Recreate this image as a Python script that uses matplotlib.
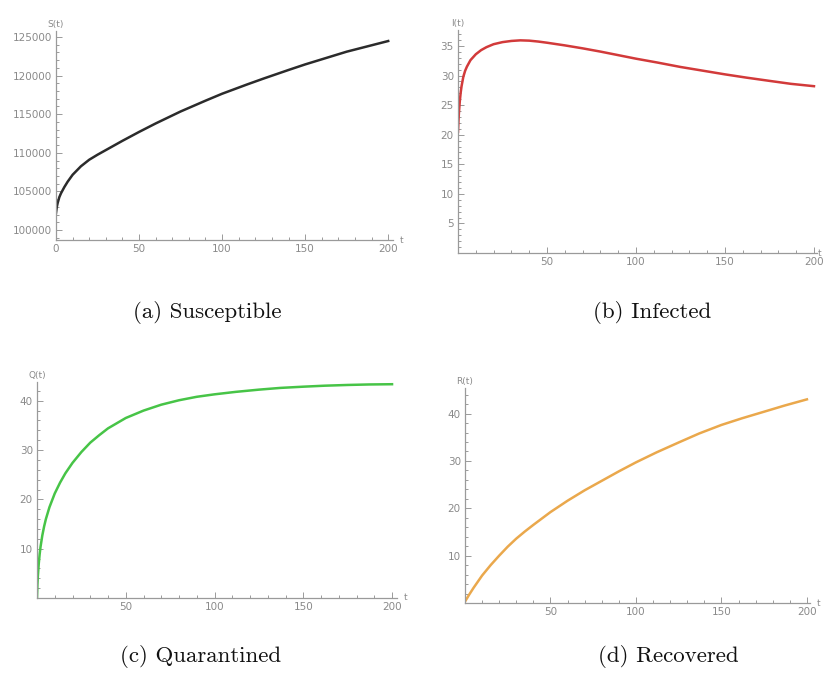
import matplotlib
matplotlib.use("Agg")
import matplotlib.pyplot as plt
from matplotlib.ticker import MultipleLocator, FuncFormatter

# values
t_s = [0, 0.5, 1, 2, 3, 5, 7, 10, 15, 20, 25, 30, 40, 50, 60, 75, 90, 100, 115, 125, 140, 150, 175, 200]
S = [102200, 103000, 103500, 104250, 104750, 105550, 106250, 107150, 108250, 109100, 109750, 110350,
     111550, 112700, 113800, 115350, 116750, 117650, 118850, 119620, 120730, 121450, 123100, 124480]

t_i = [0, 0.25, 0.5, 1, 1.5, 2, 3, 4, 5, 7, 10, 13, 16, 20, 25, 30, 35, 40, 45, 50, 60, 70,
       80, 90, 100, 112, 125, 137, 150, 162, 175, 187, 200]
I = [20.5, 22.2, 23.6, 25.6, 27.1, 28.2, 29.8, 30.8, 31.5, 32.6, 33.6, 34.3, 34.8, 35.3, 35.65,
     35.85, 35.95, 35.9, 35.75, 35.55, 35.1, 34.6, 34.05, 33.45, 32.85, 32.2, 31.45, 30.85,
     30.2, 29.65, 29.1, 28.6, 28.2]

t_q = [0, 0.25, 0.5, 1, 1.5, 2, 3, 4, 5, 7, 10, 13, 16, 20, 25, 30, 35, 40, 50, 60, 70, 80,
       90, 100, 112, 125, 137, 150, 162, 175, 187, 200]
Q = [0, 2.8, 4.5, 7.0, 8.9, 10.4, 12.7, 14.5, 16.0, 18.4, 21.2, 23.4, 25.3, 27.4, 29.6, 31.5,
     33.0, 34.4, 36.5, 38.0, 39.2, 40.1, 40.8, 41.3, 41.8, 42.25, 42.6, 42.85, 43.05, 43.2,
     43.3, 43.35]

t_r = [0, 2.5, 5, 10, 15, 20, 25, 30, 35, 40, 50, 60, 70, 80, 90, 100, 112, 125, 137, 150,
       162, 175, 187, 200]
R = [0.3, 1.8, 3.2, 5.8, 8.0, 10.0, 11.9, 13.6, 15.1, 16.5, 19.2, 21.6, 23.8, 25.8, 27.8,
     29.7, 31.8, 33.9, 35.8, 37.6, 39.0, 40.4, 41.7, 43.0]

W, H = 825, 679
fig = plt.figure(figsize=(W / 100, H / 100), dpi=100)

AX_COL = "#9a9a9a"
TXT_COL = "#8a8a8a"


def panel(left, right, top, bottom, xlim, ylim, ymaj, ymin, label, show_zero, tx=1.02):
    ax = fig.add_axes([left / W, 1 - bottom / H, (right - left) / W, (bottom - top) / H])
    ax.set_xlim(*xlim)
    ax.set_ylim(*ylim)
    for s in ["top", "right"]:
        ax.spines[s].set_visible(False)
    for s in ["left", "bottom"]:
        ax.spines[s].set_color(AX_COL)
        ax.spines[s].set_linewidth(0.9)
    ax.xaxis.set_major_locator(MultipleLocator(50))
    ax.xaxis.set_minor_locator(MultipleLocator(10))
    ax.yaxis.set_major_locator(MultipleLocator(ymaj))
    ax.yaxis.set_minor_locator(MultipleLocator(ymin))

    def xf(v, pos):
        if abs(v) < 1e-9 and not show_zero:
            return ""
        return "%d" % round(v)

    def yf(v, pos):
        if abs(v) < 1e-9:
            return ""
        return "%d" % round(v)

    ax.xaxis.set_major_formatter(FuncFormatter(xf))
    ax.yaxis.set_major_formatter(FuncFormatter(yf))
    ax.tick_params(which="both", direction="in", color=AX_COL, labelcolor=TXT_COL,
                   labelsize=7.5, width=0.7, pad=3)
    ax.tick_params(which="major", length=4)
    ax.tick_params(which="minor", length=2)
    ax.text(0, 1.01, label, transform=ax.transAxes, ha="center", va="bottom",
            fontsize=6.5, color=TXT_COL)
    ax.text(tx, 0, "t", transform=ax.transAxes, ha="left", va="center",
            fontsize=6.5, color=TXT_COL)
    return ax


ax1 = panel(56, 393, 31, 240, (0, 202.9), (98700, 125780), 5000, 1000, "S(t)", True)
ax1.plot(t_s, S, color="#2b2b2b", lw=1.8)

ax2 = panel(458, 817, 30, 253, (0, 201.7), (0, 37.7), 5, 1, "I(t)", False, tx=1.003)
ax2.plot(t_i, I, color="#d23a3a", lw=1.8)

ax3 = panel(37, 397, 382, 598, (0, 202.8), (0, 43.8), 10, 2, "Q(t)", False)
ax3.plot(t_q, Q, color="#47c447", lw=1.8)

ax4 = panel(465, 810, 388, 603, (0, 201.8), (0, 45.4), 10, 2, "R(t)", False)
ax4.plot(t_r, R, color="#eaa84c", lw=1.8)

cap = dict(ha="center", va="center", fontsize=16.5, family="cmr10", color="#111111")
fig.text(207 / W, 1 - 313 / H, "(a) Susceptible", **cap)
fig.text(652 / W, 1 - 313 / H, "(b) Infected", **cap)
fig.text(201 / W, 1 - 657 / H, "(c) Quarantined", **cap)
fig.text(668 / W, 1 - 657 / H, "(d) Recovered", **cap)

fig.savefig("out.png", dpi=100)
